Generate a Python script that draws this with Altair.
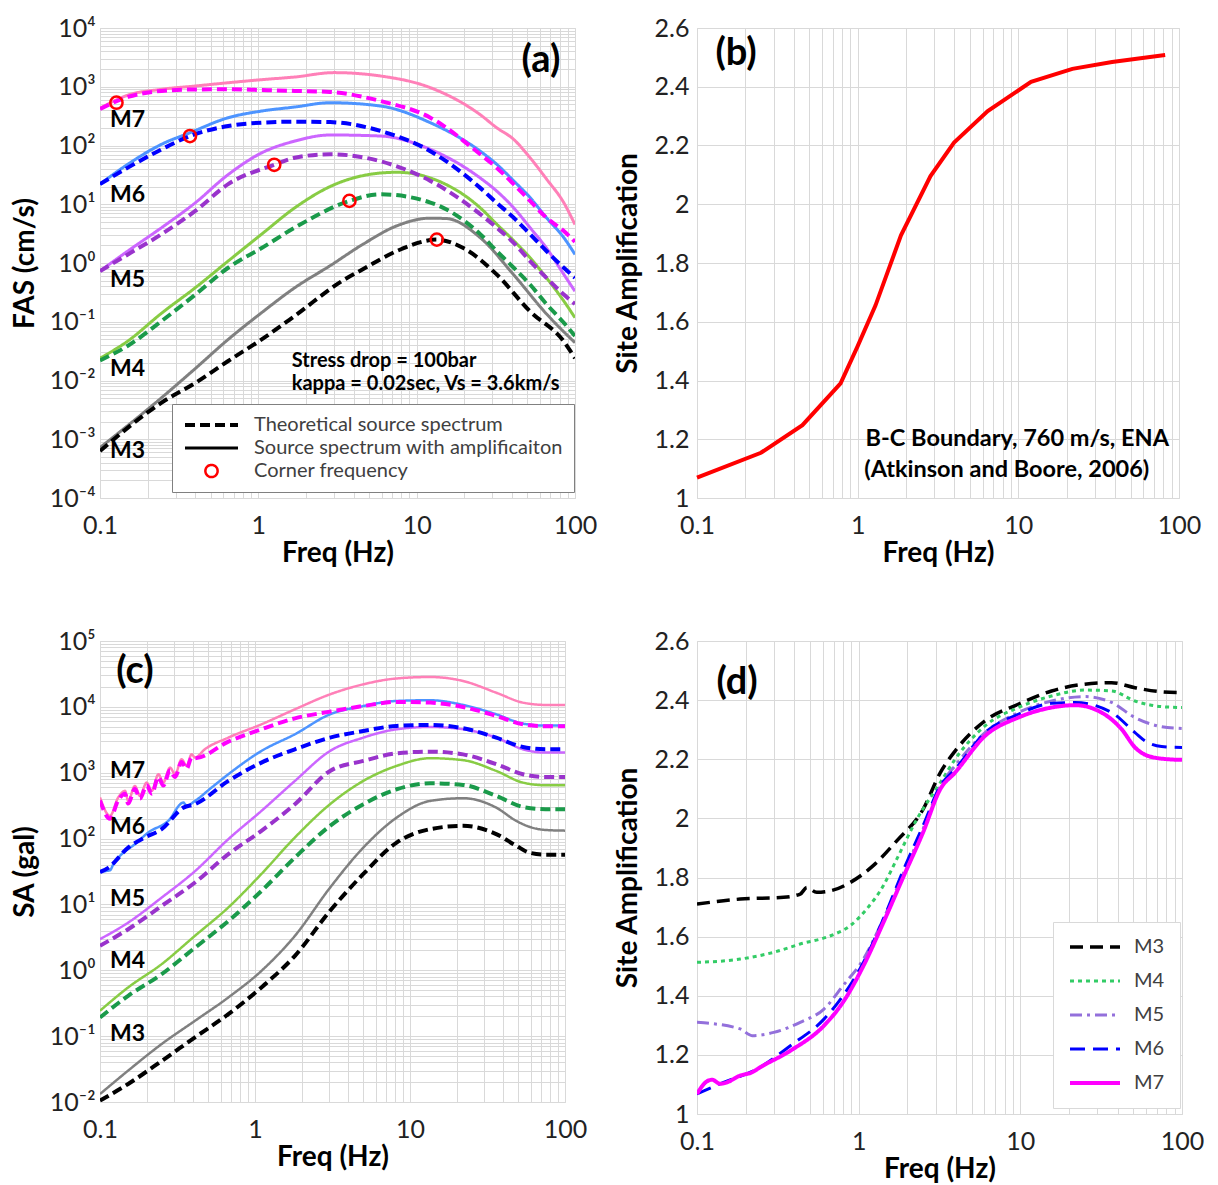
import altair as alt
import pandas as pd

FONT = "Lato"

# ---------------- Panel (a): Fourier amplitude spectra ----------------
KINDS = ["Theoretical source spectrum", "Source spectrum with amplificaiton", "Corner frequency"]

A_SERIES = ["M7 solid", "M6 solid", "M5 solid", "M4 solid", "M3 solid",
            "M7 dashed", "M6 dashed", "M5 dashed", "M4 dashed", "M3 dashed"]
A_COLORS = ["#ff80b8", "#4d94ff", "#cc66ff", "#88cc44", "#808080",
            "#ff00ff", "#0000ff", "#9933cc", "#1a9a4a", "#000000"]

FAS_M7_SOLID_F = [0.1, 0.15, 0.245, 0.4, 0.645, 1.05, 1.7, 3.0, 5.9, 12.2, 25, 32, 41, 52, 66, 85, 100]
FAS_M7_SOLID_V = [430, 720, 905, 1030, 1170, 1320, 1465, 1740, 1525, 965, 340, 201, 127, 62, 27, 10.6, 4.5]
FAS_M7_DASH_F = [0.1, 0.15, 0.245, 0.4, 0.645, 1.05, 1.7, 2.84, 5.9, 12.2, 25.2, 32, 41, 52, 66, 85, 100]
FAS_M7_DASH_V = [420, 670, 850, 900, 905, 880, 850, 815, 572, 298, 71, 42, 22, 11.4, 5.9, 3.5, 2.3]
FAS_M6_SOLID_F = [0.1, 0.15, 0.245, 0.37, 0.645, 1.05, 1.7, 2.84, 5.9, 12.2, 25.2, 32, 41, 52, 66, 85, 100]
FAS_M6_SOLID_V = [22, 48, 105, 165, 297, 386, 452, 535, 470, 244, 80, 48, 25, 13, 5.9, 2.7, 1.4]
FAS_M6_DASH_F = [0.1, 0.15, 0.245, 0.37, 0.645, 1.05, 1.7, 2.84, 5.9, 12.2, 25.2, 32, 41, 52, 66, 85, 100]
FAS_M6_DASH_V = [22, 42, 86, 145, 215, 245, 254, 250, 177, 80, 19, 10.6, 5.9, 3.1, 1.6, 0.83, 0.56]
FAS_M5_SOLID_F = [0.1, 0.15, 0.245, 0.4, 0.645, 1.05, 1.7, 2.84, 5.9, 12.2, 25.2, 32, 41, 52, 66, 85, 100]
FAS_M5_SOLID_V = [0.73, 1.6, 4.0, 10.6, 32, 75, 119, 151, 145, 86, 28, 16.8, 8.7, 4.0, 1.8, 0.64, 0.33]
FAS_M5_DASH_F = [0.1, 0.15, 0.245, 0.4, 0.645, 1.26, 1.7, 2.84, 5.9, 12.2, 25.2, 32, 41, 52, 66, 85, 100]
FAS_M5_DASH_V = [0.73, 1.4, 3.1, 7.7, 22, 47, 62, 71, 54, 25, 6.8, 4.0, 2.2, 1.08, 0.56, 0.29, 0.2]
FAS_M4_SOLID_F = [0.1, 0.15, 0.245, 0.4, 0.645, 1.05, 1.7, 2.84, 5.9, 7.5, 12.2, 25.2, 32, 41, 52, 66, 85, 100]
FAS_M4_SOLID_V = [0.024, 0.047, 0.14, 0.38, 1.08, 3.1, 8.7, 20, 34, 35, 28, 8.7, 4.6, 2.4, 1.23, 0.56, 0.225, 0.117]
FAS_M4_DASH_F = [0.1, 0.15, 0.245, 0.4, 0.645, 1.05, 1.7, 3.76, 5.9, 12.2, 25.2, 32, 41, 52, 66, 85, 100]
FAS_M4_DASH_V = [0.022, 0.039, 0.103, 0.29, 0.83, 1.8, 4.0, 11.4, 14.8, 10.7, 3.1, 1.6, 0.83, 0.43, 0.2, 0.096, 0.057]
FAS_M3_SOLID_F = [0.1, 0.245, 0.4, 0.645, 1.05, 1.7, 2.84, 4.6, 7.5, 12.2, 15.5, 25.2, 40.8, 66.4, 100]
FAS_M3_SOLID_V = [0.00072, 0.0051, 0.016, 0.05, 0.143, 0.38, 0.9, 2.1, 4.3, 5.8, 5.7, 2.7, 0.64, 0.134, 0.044]
FAS_M3_DASH_F = [0.1, 0.245, 0.4, 0.645, 1.05, 1.7, 3.36, 4.6, 7.5, 13.4, 19.7, 32, 52, 84.6, 100]
FAS_M3_DASH_V = [0.00063, 0.0042, 0.0091, 0.0215, 0.05, 0.126, 0.49, 0.79, 1.6, 2.5, 1.8, 0.64, 0.15, 0.047, 0.024]

CF_F = [0.127, 0.37, 1.26, 3.76, 13.4]
CF_V = [535, 145, 47, 11.4, 2.5]

A_MLABELS = ["M7", "M6", "M5", "M4", "M3"]
A_MLABEL_V = [272, 14.4, 0.51, 0.0158, 0.00063]
A_NOTES = ["Stress drop = 100bar", "kappa = 0.02sec, Vs = 3.6km/s"]
A_NOTE_V = [0.0215, 0.0086]

# ---------------- Panel (b): site amplification ----------------
B_F = [0.1, 0.25, 0.453, 0.783, 1.0, 1.29, 1.86, 2.84, 3.98, 6.45, 12.0, 21.7, 38.3, 82]
B_AMP = [1.069, 1.154, 1.248, 1.39, 1.517, 1.655, 1.894, 2.096, 2.21, 2.317, 2.417, 2.461, 2.484, 2.508]
B_NOTES = ["B-C Boundary, 760 m/s, ENA", "(Atkinson and Boore, 2006)"]
B_NOTE_F = [9.85, 8.47]
B_NOTE_V = [1.2, 1.094]

# ---------------- Panel (c): response spectra ----------------
C_SERIES = A_SERIES
C_COLORS = A_COLORS
SA_M7_SOLID_F = [0.1, 0.116, 0.131, 0.145, 0.152, 0.168, 0.181, 0.2, 0.216, 0.238, 0.256, 0.283, 0.305,
                 0.336, 0.362, 0.39, 0.41, 0.475, 0.673, 1.1, 1.81, 3.05, 5.0, 8.2, 13.5, 22, 36, 53.5, 75, 100]
SA_M7_SOLID_V = [420, 221, 420, 530, 373, 631, 445, 708, 530, 948, 708, 1197, 948,
                 1600, 1268, 1906, 1698, 2271, 3413, 5435, 9180, 15500, 22000, 27000, 28400, 24700, 16400, 11600, 10700, 10700]
SA_M7_DASH_F = [0.1, 0.116, 0.131, 0.145, 0.152, 0.168, 0.181, 0.2, 0.216, 0.238, 0.256, 0.283, 0.305,
                0.336, 0.362, 0.39, 0.41, 0.673, 1.1, 1.81, 3.05, 5.0, 8.2, 13.5, 22, 36, 53.5, 75, 100]
SA_M7_DASH_V = [380, 200, 380, 480, 340, 570, 405, 640, 480, 860, 640, 1090, 860,
                1450, 1150, 1700, 1660, 2965, 4570, 6700, 8470, 10300, 11900, 11600, 9950, 7280, 5440, 5070, 5070]
SA_M6_SOLID_F = [0.1, 0.116, 0.122, 0.138, 0.168, 0.205, 0.276, 0.345, 0.362, 0.41, 0.525, 0.673, 1.1, 1.81,
                 3.05, 5.0, 8.2, 13.5, 22, 36, 53.5, 75, 100]
SA_M6_SOLID_V = [31.6, 33, 41, 58, 82, 124, 186, 352, 313, 373, 596, 948, 2140, 3840,
                 7710, 10300, 12300, 12600, 10700, 7710, 5570, 5190, 5190]
SA_M6_DASH_F = [0.1, 0.113, 0.152, 0.195, 0.25, 0.345, 0.41, 0.673, 1.1, 1.81, 3.05, 5.0, 8.2, 13.5, 22, 36, 53.5, 75, 100]
SA_M6_DASH_V = [31, 36, 73, 104, 139, 295, 333, 751, 1425, 2270, 3410, 4300, 5130, 5310, 4730, 3410, 2460, 2270, 2270]
SA_F = [0.1, 0.152, 0.25, 0.41, 0.673, 1.1, 1.81, 3.05, 5.0, 8.2, 13.5, 22, 36, 53.5, 75, 100]
SA_M5_SOLID_V = [2.97, 5.3, 12.7, 32, 98, 263, 751, 2140, 3410, 4570, 4950, 4570, 3410, 2270, 2020, 2020]
SA_M5_DASH_V = [2.36, 4.2, 9.5, 21.5, 58, 131, 333, 1065, 1510, 1970, 2090, 1900, 1345, 948, 863, 863]
SA_M4_SOLID_V = [0.243, 0.55, 1.24, 3.34, 9.0, 29, 104, 333, 751, 1270, 1660, 1550, 1065, 708, 645, 645]
SA_M4_DASH_V = [0.192, 0.41, 0.875, 2.2, 5.6, 16, 51.5, 156, 333, 561, 692, 653, 445, 302, 279, 279]
SA_M3_F = [0.1, 0.152, 0.25, 0.41, 0.673, 1.1, 1.81, 3.05, 5.0, 8.2, 13.5, 22, 36, 48.4, 58.9, 75, 100]
SA_M3_SOLID_V = [0.0132, 0.030, 0.076, 0.171, 0.387, 0.98, 3.34, 18, 73, 208, 373, 410, 295, 186, 151, 135, 132]
SA_M3_DASH_V = [0.0105, 0.0188, 0.042, 0.096, 0.216, 0.55, 1.66, 8.0, 29, 87, 139, 156, 117, 78, 61, 57, 57]

C_MLABEL_V = [1064, 149, 12, 1.38, 0.108]

# ---------------- Panel (d): SA amplification ----------------
D_MAGS = ["M3", "M4", "M5", "M6", "M7"]
D_COLORS = ["#000000", "#33cc66", "#9370db", "#0000ff", "#ff00ff"]
D_DASHES = [[13, 7], [4, 4], [12, 5, 3, 5], [15, 8], [1, 0]]
D_WIDTHS = [3.5, 3, 3, 3, 4]
D_M3_F = [0.1, 0.185, 0.343, 0.435, 0.478, 0.55, 0.67, 0.886, 1.23, 1.72, 2.5, 3.2, 3.95, 6.05, 9.7, 15.6, 25, 36.7, 51.2, 74.8, 100]
D_M3_V = [1.71, 1.727, 1.733, 1.744, 1.766, 1.75, 1.755, 1.783, 1.84, 1.924, 2.03, 2.155, 2.228, 2.33, 2.386, 2.431, 2.454, 2.459, 2.442, 2.428, 2.425]
D_M4_F = [0.1, 0.185, 0.298, 0.435, 0.67, 0.886, 1.12, 1.42, 1.72, 2.29, 3.2, 3.95, 6.05, 9.7, 15.6, 25, 36.7, 51.2, 74.8, 100]
D_M4_V = [1.513, 1.524, 1.547, 1.575, 1.603, 1.637, 1.693, 1.772, 1.862, 1.997, 2.121, 2.2, 2.313, 2.375, 2.414, 2.434, 2.431, 2.397, 2.378, 2.375]
D_M5_F = [0.1, 0.185, 0.219, 0.298, 0.435, 0.61, 0.8, 1.07, 1.42, 1.9, 2.5, 3.2, 3.95, 6.05, 9.7, 15.6, 25, 36.7, 51.2, 74.8, 100]
D_M5_V = [1.31, 1.288, 1.265, 1.276, 1.31, 1.355, 1.434, 1.524, 1.659, 1.817, 1.964, 2.11, 2.178, 2.29, 2.358, 2.397, 2.412, 2.392, 2.341, 2.31, 2.304]
D_M6_F = [0.1, 0.146, 0.235, 0.378, 0.61, 0.8, 1.07, 1.42, 1.9, 2.5, 3.2, 3.95, 6.05, 9.7, 15.6, 21.8, 36.7, 51.2, 59, 74.8, 100]
D_M6_V = [1.068, 1.107, 1.152, 1.231, 1.321, 1.40, 1.513, 1.659, 1.828, 1.975, 2.11, 2.166, 2.29, 2.352, 2.389, 2.392, 2.358, 2.29, 2.262, 2.243, 2.24]
D_M7_F = [0.1, 0.113, 0.124, 0.139, 0.153, 0.185, 0.219, 0.246, 0.378, 0.61, 0.8, 1.07, 1.42, 1.9, 2.5, 3.2, 3.95,
          6.05, 9.7, 15.6, 21.8, 31.8, 42.4, 51.2, 61.8, 82, 100]
D_M7_V = [1.068, 1.107, 1.116, 1.102, 1.107, 1.13, 1.141, 1.158, 1.214, 1.299, 1.378, 1.501, 1.647, 1.805, 1.952, 2.099, 2.155,
          2.279, 2.341, 2.375, 2.383, 2.358, 2.301, 2.24, 2.211, 2.2, 2.198]

PANEL_LABELS = ["(a)", "(b)", "(c)", "(d)"]


# ---------------- helpers ----------------
def long_frame(pairs, kind_of):
    rows = []
    for name, (fs, vs) in pairs.items():
        for f, v in zip(fs, vs):
            rows.append({"f": f, "v": v, "series": name, "kind": kind_of(name)})
    return pd.DataFrame(rows)


def kind_of(name):
    return KINDS[0] if name.endswith("dashed") else KINDS[1]


X_VALUES = [round(k * 10.0 ** e, 6) for e in (-1, 0, 1) for k in range(1, 10)] + [100.0]
LOG10 = "(log(datum.value)/LN10)"
IS_DEC = f"abs({LOG10} - round({LOG10})) < 0.01"
X_EXPR = f"{IS_DEC} ? ['0.1','1','10','100'][round({LOG10})+1] : ''"


def y_log_values(lo, hi):
    return [round(k * 10.0 ** e, 8) for e in range(lo, hi) for k in range(1, 10)] + [10.0 ** hi]


SUP = {"-": "⁻", "0": "⁰", "1": "¹", "2": "²", "3": "³", "4": "⁴", "5": "⁵"}


def sup_labels(lo, hi):
    return ["10" + "".join(SUP[c] for c in str(e)) for e in range(lo, hi + 1)]


def y_log_expr(lo, hi):
    arr = ",".join(f"'{s}'" for s in sup_labels(lo, hi))
    return f"{IS_DEC} ? [{arr}][round({LOG10})-({lo})] : ''"


LIN_VALUES = [round(1 + 0.1 * i, 1) for i in range(17)]
LIN_EXPR = "round(datum.value*10) % 2 == 0 ? format(datum.value, '~g') : ''"


def x_enc():
    return alt.X("f:Q", scale=alt.Scale(type="log", domain=[0.1, 100], nice=False),
                 axis=alt.Axis(values=X_VALUES, labelExpr=X_EXPR, title="Freq (Hz)",
                               labelPadding=15, titlePadding=1))


def y_log_axis(title, lo, hi):
    return alt.Axis(values=y_log_values(lo, hi), labelExpr=y_log_expr(lo, hi), title=title,
                    labelPadding=5, minExtent=56, maxExtent=56, titlePadding=5)


def y_lin_axis(title):
    return alt.Axis(values=LIN_VALUES, labelExpr=LIN_EXPR, title=title,
                    labelPadding=8, minExtent=43, maxExtent=43, titlePadding=12)


def text_layer(df, size, align="left", weight="bold", color="#000000"):
    return alt.Chart(df).mark_text(font=FONT, fontSize=size, fontWeight=weight, align=align,
                                   baseline="middle", color=color).encode(
        x=alt.X("f:Q"), y=alt.Y("v:Q"), text="t:N")


# ---------------- Panel (a) ----------------
fas_pairs = {
    "M7 solid": (FAS_M7_SOLID_F, FAS_M7_SOLID_V), "M6 solid": (FAS_M6_SOLID_F, FAS_M6_SOLID_V),
    "M5 solid": (FAS_M5_SOLID_F, FAS_M5_SOLID_V), "M4 solid": (FAS_M4_SOLID_F, FAS_M4_SOLID_V),
    "M3 solid": (FAS_M3_SOLID_F, FAS_M3_SOLID_V),
    "M7 dashed": (FAS_M7_DASH_F, FAS_M7_DASH_V), "M6 dashed": (FAS_M6_DASH_F, FAS_M6_DASH_V),
    "M5 dashed": (FAS_M5_DASH_F, FAS_M5_DASH_V), "M4 dashed": (FAS_M4_DASH_F, FAS_M4_DASH_V),
    "M3 dashed": (FAS_M3_DASH_F, FAS_M3_DASH_V),
}
df_a = long_frame(fas_pairs, kind_of)
df_cf = pd.DataFrame({"f": CF_F, "v": CF_V, "kind": KINDS[2]})

LEG_A = alt.Legend(title=None, orient="none", legendX=72, legendY=376, fillColor="white",
                   strokeColor="#808080", padding=11, labelFont=FONT, labelFontSize=20,
                   labelColor="#404040", labelOffset=14, clipHeight=20, rowPadding=3,
                   labelLimit=600, symbolFillColor="transparent", offset=0)

dash_scale = alt.Scale(domain=KINDS, range=[[10, 5], [1, 0], [1, 0]])
width_scale = alt.Scale(type="ordinal", domain=KINDS, range=[4, 3, 2.5])


def fas_lines(df):
    return alt.Chart(df).mark_line(interpolate="monotone", clip=True).encode(
        x=x_enc(),
        y=alt.Y("v:Q", scale=alt.Scale(type="log", domain=[1e-4, 1e4], nice=False),
                axis=y_log_axis("FAS (cm/s)", -4, 4)),
        color=alt.Color("series:N", scale=alt.Scale(domain=A_SERIES, range=A_COLORS), legend=None),
        strokeDash=alt.StrokeDash("kind:N", scale=dash_scale, legend=LEG_A),
        strokeWidth=alt.StrokeWidth("kind:N", scale=width_scale, legend=LEG_A),
        detail="series:N",
    )


a_solid = fas_lines(df_a[df_a["kind"] == KINDS[1]])
a_dash = fas_lines(df_a[df_a["kind"] == KINDS[0]])
a_pts = alt.Chart(df_cf).mark_point(filled=False, opacity=1).encode(
    x="f:Q", y="v:Q",
    shape=alt.Shape("kind:N", scale=alt.Scale(domain=KINDS, range=["stroke", "stroke", "circle"]), legend=LEG_A),
    stroke=alt.Stroke("kind:N", scale=alt.Scale(domain=KINDS, range=["#000000", "#000000", "#ff0000"]), legend=LEG_A),
    size=alt.Size("kind:N", scale=alt.Scale(type="ordinal", domain=KINDS, range=[2809, 2809, 150]), legend=LEG_A),
    strokeWidth=alt.StrokeWidth("kind:N", scale=width_scale, legend=LEG_A),
)
a_mlab = text_layer(pd.DataFrame({"f": 0.1157, "v": A_MLABEL_V, "t": A_MLABELS}), 23)
a_notes = text_layer(pd.DataFrame({"f": 1.626, "v": A_NOTE_V, "t": A_NOTES}), 20)
a_tag = text_layer(pd.DataFrame({"f": [61], "v": [2750], "t": [PANEL_LABELS[0]]}), 38, align="center")
panel_a = alt.layer(a_solid, a_dash, a_pts, a_mlab, a_notes, a_tag).properties(width=475, height=470)

# ---------------- Panel (b) ----------------
df_b = pd.DataFrame({"f": B_F, "v": B_AMP})
b_line = alt.Chart(df_b).mark_line(color="#ff0000", strokeWidth=4).encode(
    x=x_enc(),
    y=alt.Y("v:Q", scale=alt.Scale(domain=[1, 2.6], nice=False, zero=False),
            axis=y_lin_axis("Site Amplification")),
)
b_notes = text_layer(pd.DataFrame({"f": B_NOTE_F, "v": B_NOTE_V, "t": B_NOTES}), 23.5, align="center")
b_tag = text_layer(pd.DataFrame({"f": [0.175], "v": [2.51], "t": [PANEL_LABELS[1]]}), 38, align="center")
panel_b = alt.layer(b_line, b_notes, b_tag).properties(width=482, height=470)

# ---------------- Panel (c) ----------------
sa_pairs = {
    "M7 solid": (SA_M7_SOLID_F, SA_M7_SOLID_V), "M6 solid": (SA_M6_SOLID_F, SA_M6_SOLID_V),
    "M5 solid": (SA_F, SA_M5_SOLID_V), "M4 solid": (SA_F, SA_M4_SOLID_V), "M3 solid": (SA_M3_F, SA_M3_SOLID_V),
    "M7 dashed": (SA_M7_DASH_F, SA_M7_DASH_V), "M6 dashed": (SA_M6_DASH_F, SA_M6_DASH_V),
    "M5 dashed": (SA_F, SA_M5_DASH_V), "M4 dashed": (SA_F, SA_M4_DASH_V), "M3 dashed": (SA_M3_F, SA_M3_DASH_V),
}
df_c = long_frame(sa_pairs, kind_of)


def sa_lines(df):
    return alt.Chart(df).mark_line(interpolate="monotone", clip=True).encode(
        x=x_enc(),
        y=alt.Y("v:Q", scale=alt.Scale(type="log", domain=[1e-2, 1e5], nice=False),
                axis=y_log_axis("SA (gal)", -2, 5)),
        color=alt.Color("series:N", scale=alt.Scale(domain=C_SERIES, range=C_COLORS), legend=None),
        strokeDash=alt.StrokeDash("kind:N", scale=dash_scale, legend=None),
        strokeWidth=alt.StrokeWidth("kind:N", scale=alt.Scale(type="ordinal", domain=KINDS, range=[4, 2.5, 2.5]),
                                    legend=None),
        detail="series:N",
    )


c_solid = sa_lines(df_c[df_c["kind"] == KINDS[1]])
c_dash = sa_lines(df_c[df_c["kind"] == KINDS[0]])
c_mlab = text_layer(pd.DataFrame({"f": 0.116, "v": C_MLABEL_V, "t": A_MLABELS}), 23)
c_tag = text_layer(pd.DataFrame({"f": [0.168], "v": [33500], "t": [PANEL_LABELS[2]]}), 38, align="center")
panel_c = alt.layer(c_solid, c_dash, c_mlab, c_tag).properties(width=465, height=461)

# ---------------- Panel (d) ----------------
d_pairs = {"M3": (D_M3_F, D_M3_V), "M4": (D_M4_F, D_M4_V), "M5": (D_M5_F, D_M5_V),
           "M6": (D_M6_F, D_M6_V), "M7": (D_M7_F, D_M7_V)}
df_d = long_frame(d_pairs, lambda n: n)
LEG_D = alt.Legend(title=None, orient="none", legendX=356, legendY=281, fillColor="white",
                   strokeColor="#d9d9d9", padding=15, labelFont=FONT, labelFontSize=20,
                   labelColor="#404040", labelOffset=12, clipHeight=20, rowPadding=14,
                   symbolType="stroke", symbolSize=2500, offset=0)
d_lines = alt.Chart(df_d).mark_line(interpolate="monotone", clip=True).encode(
    x=x_enc(),
    y=alt.Y("v:Q", scale=alt.Scale(domain=[1, 2.6], nice=False, zero=False),
            axis=y_lin_axis("Site Amplification")),
    color=alt.Color("series:N", scale=alt.Scale(domain=D_MAGS, range=D_COLORS), legend=LEG_D),
    strokeDash=alt.StrokeDash("series:N", scale=alt.Scale(domain=D_MAGS, range=D_DASHES), legend=LEG_D),
    strokeWidth=alt.StrokeWidth("series:N", scale=alt.Scale(type="ordinal", domain=D_MAGS, range=D_WIDTHS),
                                legend=LEG_D),
)
d_tag = text_layer(pd.DataFrame({"f": [0.177], "v": [2.459], "t": [PANEL_LABELS[3]]}), 38, align="center")
panel_d = alt.layer(d_lines, d_tag).properties(width=485, height=473)

# ---------------- assemble ----------------
IND = dict(color="independent", strokeDash="independent", strokeWidth="independent",
           shape="independent", stroke="independent", size="independent")
chart = alt.concat(panel_a, panel_b, panel_c, panel_d, columns=2,
                   spacing={"row": 143, "column": 122}, bounds="flush").resolve_scale(
    **IND
).resolve_legend(
    **IND
).properties(
    padding={"left": 10, "top": 15, "right": 10, "bottom": 5}, background="white"
).configure_axis(
    labelFont=FONT, titleFont=FONT, labelFontSize=25, titleFontSize=28, titleFontWeight="bold",
    labelColor="#222222", titleColor="#000000", grid=True, gridColor="#d9d9d9", gridWidth=1,
    ticks=False, domain=False, labelFlush=False, labelOverlap=False,
).configure_view(stroke="#d9d9d9")

chart.save("out.html", embed_options={"renderer": "svg", "actions": False})
